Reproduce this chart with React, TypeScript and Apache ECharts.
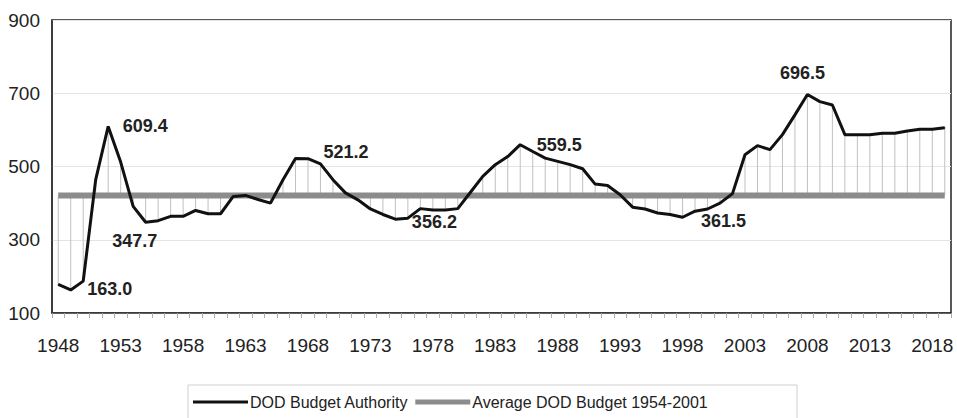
import React, { useEffect, useRef } from "react";
import * as echarts from "echarts";

const years: string[] = [
  "1948", "1949", "1950", "1951", "1952", "1953", "1954", "1955", "1956", "1957",
  "1958", "1959", "1960", "1961", "1962", "1963", "1964", "1965", "1966", "1967",
  "1968", "1969", "1970", "1971", "1972", "1973", "1974", "1975", "1976", "1977",
  "1978", "1979", "1980", "1981", "1982", "1983", "1984", "1985", "1986", "1987",
  "1988", "1989", "1990", "1991", "1992", "1993", "1994", "1995", "1996", "1997",
  "1998", "1999", "2000", "2001", "2002", "2003", "2004", "2005", "2006", "2007",
  "2008", "2009", "2010", "2011", "2012", "2013", "2014", "2015", "2016", "2017",
  "2018", "2019",
];

const budgetAuthority: number[] = [
  178, 163.0, 187, 464, 609.4, 512, 391, 347.7, 352, 364,
  364, 380, 371, 371, 418, 421, 410, 400, 464, 522,
  521.2, 507, 464, 428, 409, 384, 369, 356.2, 359, 385,
  381, 381, 385, 429, 473, 505, 527, 559.5, 541, 523,
  514, 505, 494, 452, 448, 423, 389, 384, 373, 369,
  361.5, 378, 384, 400, 426, 532, 557, 546, 587, 641,
  696.5, 677, 668, 587, 587, 587, 591, 591, 597, 602,
  602, 606,
];

const averageBudget = 421;

const labeledYears: string[] = ["1949", "1952", "1955", "1968", "1975", "1985", "1998", "2008"];

const seriesNames: string[] = ["DOD Budget Authority", "Average DOD Budget 1954-2001"];

const yTicks = { min: 100, max: 900, interval: 200 };

const FONT = "'Liberation Sans', Arial, sans-serif";

// label placement relative to the point (top-left corner of text box)
const labelPositions: Record<string, number[]> = {
  "1949": [17, -9],
  "1952": [15, -9],
  "1955": [-33, 10],
  "1968": [16, -15],
  "1975": [17, -6],
  "1985": [17, -8],
  "1998": [19, -5],
  "2008": [-27, -30],
};

export default function App() {
  const ref = useRef<HTMLDivElement>(null);

  useEffect(() => {
    if (!ref.current) return;
    const chart = echarts.init(ref.current, undefined, { renderer: "svg" });

    const lineData = budgetAuthority.map((v, i) => {
      const y = years[i];
      if (labeledYears.includes(y)) {
        return {
          value: v,
          label: {
            show: true,
            position: labelPositions[y],
            align: "left",
            verticalAlign: "top",
            formatter: () => v.toFixed(1),
            fontFamily: FONT,
            fontWeight: "bold",
            fontSize: 18,
            lineHeight: 18,
            color: "#222",
          },
        };
      }
      return v;
    });

    const avgData = years.map(() => averageBudget);
    const dropData = budgetAuthority.map((v, i) => [i, v]);

    chart.setOption({
      animation: false,
      backgroundColor: "#fff",
      grid: {
        left: 52,
        right: 6,
        top: 20,
        bottom: 105,
        show: true,
        borderColor: "#222",
        borderWidth: 1.5,
        backgroundColor: "transparent",
      },
      graphic: [
        {
          type: "rect",
          shape: { x: 188, y: 385, width: 609, height: 60 },
          style: { fill: "none", stroke: "#cfcfcf", lineWidth: 1 },
          silent: true,
        },
      ],
      legend: {
        left: 188,
        top: 385,
        orient: "horizontal",
        itemWidth: 55,
        itemHeight: 14,
        itemGap: 7,
        padding: [9, 5, 20, 5],
        data: [
          { name: seriesNames[0], icon: "path://M0,0L55,0L55,3L0,3Z" },
          { name: seriesNames[1], icon: "path://M0,0L55,0L55,5L0,5Z" },
        ],
        textStyle: { fontFamily: FONT, fontSize: 16, color: "#222", padding: [0, 0, 0, -3] },
      },
      xAxis: {
        type: "category",
        data: years,
        boundaryGap: true,
        axisLine: { show: true, lineStyle: { color: "#333", width: 1.5 } },
        axisTick: { show: true, interval: 0, length: 5, lineStyle: { color: "#aaa" } },
        axisLabel: {
          interval: 4,
          margin: 23,
          fontFamily: FONT,
          fontSize: 19,
          color: "#222",
        },
        splitLine: { show: false },
      },
      yAxis: {
        type: "value",
        min: yTicks.min,
        max: yTicks.max,
        interval: yTicks.interval,
        axisLine: { show: true, lineStyle: { color: "#333", width: 1.5 } },
        axisTick: { show: false },
        axisLabel: {
          margin: 12,
          fontFamily: FONT,
          fontSize: 19,
          color: "#222",
        },
        splitLine: { show: true, lineStyle: { color: "#e4e4e4", width: 1 } },
      },
      series: [
        {
          type: "custom",
          name: "drop",
          silent: true,
          z: 1,
          data: dropData,
          encode: { x: 0, y: 1 },
          renderItem: (params: any, api: any) => {
            const i = api.value(0);
            const v = api.value(1);
            const p1 = api.coord([i, v]);
            const p2 = api.coord([i, averageBudget]);
            return {
              type: "line",
              shape: { x1: p1[0], y1: p1[1], x2: p2[0], y2: p2[1] },
              style: { stroke: "#c0c0c0", lineWidth: 1 },
            };
          },
        },
        {
          type: "line",
          name: seriesNames[1],
          data: avgData,
          symbol: "none",
          z: 2,
          lineStyle: { color: "#8c8c8c", width: 6 },
          itemStyle: { color: "#8c8c8c" },
        },
        {
          type: "line",
          name: seriesNames[0],
          data: lineData,
          symbol: "circle",
          symbolSize: 1,
          showSymbol: true,
          showAllSymbol: true,
          z: 3,
          lineStyle: { color: "#111", width: 3 },
          itemStyle: { color: "#111" },
          labelLayout: { hideOverlap: false },
        },
      ],
    });

    return () => {
      chart.dispose();
    };
  }, []);

  return (
    <div
      ref={ref}
      style={{ position: "fixed", left: 0, top: 0, width: 957, height: 418 }}
    />
  );
}
